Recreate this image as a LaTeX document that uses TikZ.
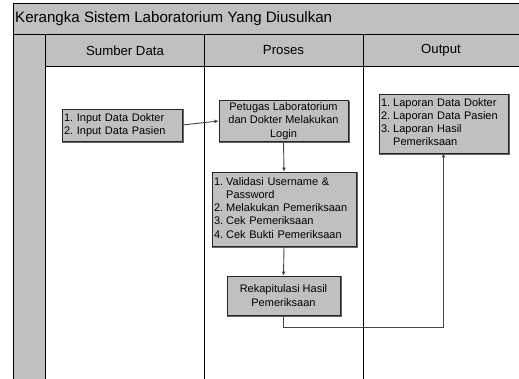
\documentclass[tikz,border=0pt]{standalone}
\usepackage{fontspec}
\setmainfont{Liberation Sans}
\usetikzlibrary{arrows.meta}
\frenchspacing
\definecolor{lanegray}{RGB}{192,192,192}
\definecolor{linegray}{RGB}{70,70,70}
\tikzset{
  box/.style={draw=black!85, line width=0.7pt, fill=lanegray, inner sep=2pt, font=\fontsize{11}{13.2}\selectfont, minimum width=#1},
  box/.default=100pt,
  boxshadow/.style={draw=black!60, line width=0.8pt},
  conn/.style={draw=linegray, line width=0.9pt},
  arr/.style={conn, -{Latex[length=4pt,width=4pt]}},
  frameline/.style={draw=black, line width=0.9pt},
  headtext/.style={font=\fontsize{13.2}{15}\selectfont},
}
\begin{document}
\begin{tikzpicture}[x=1pt,y=-1pt]
\useasboundingbox (0,0) rectangle (519,378);
% fills
\fill[lanegray] (13,3) rectangle (520,34);
\fill[lanegray] (45,34) rectangle (520,66);
\fill[lanegray] (13,34) rectangle (45,379);
% lines
\draw[frameline] (520,3) -- (13,3) -- (13,379);
\draw[frameline] (13,34) -- (520,34);
\draw[frameline] (45,66) -- (520,66);
\draw[frameline] (45,34) -- (45,379);
\draw[frameline] (204,34) -- (204,379);
\draw[frameline] (363,34) -- (363,379);
% texts
\node[anchor=west, inner sep=0pt, font=\fontsize{15.1}{18}\selectfont] (title) at (15,18.5) {Kerangka Sistem Laboratorium Yang Diusulkan};
\node[headtext] (h1) at (125,50.5) {Sumber Data};
\node[headtext] (h2) at (283.5,50.5) {Proses};
\node[headtext] (h3) at (441,50.5) {Output};
% boxes
\node[box=120pt, minimum height=32pt, align=left, text width=116pt] (input) at (122,125) {1. Input Data Dokter\\2. Input Data Pasien};
\node[box=129pt, minimum height=40pt, align=center] (login) at (283.5,121) {Petugas Laboratorium\\dan Dokter Melakukan\\Login};
\node[box=129pt, minimum height=59pt, text width=125pt] (output) at (443.5,123.5) {%
  \begin{tabular}{@{}l@{\hspace{3pt}}l@{}}1.&Laporan Data Dokter\\2.&Laporan Data Pasien\\3.&Laporan Hasil\\&Pemeriksaan\end{tabular}};
\node[box=144pt, minimum height=74pt, text width=140pt] (proses) at (284,209) {%
  \begin{tabular}{@{}l@{\hspace{3pt}}l@{}}1.&Validasi Username \&\\&Password\\2.&Melakukan Pemeriksaan\\3.&Cek Pemeriksaan\\4.&Cek Bukti Pemeriksaan\end{tabular}};
\node[box=113pt, minimum height=39pt, align=center] (rekap) at (283.5,295.5) {Rekapitulasi Hasil\\Pemeriksaan};
% shadows
\foreach \n in {input,login,output,proses,rekap}
  \draw[boxshadow] ([shift={(0.5,1)}]\n.south west) -- ([shift={(1,1)}]\n.south east) -- ([shift={(1,0.5)}]\n.north east);
% connectors
\draw[arr] (input.east) -- (login.west);
\draw[arr] (login.south) -- (proses.north);
\draw[arr] (proses.south) -- (rekap.north);
\coordinate (turn) at (283.5,327);
\draw[arr] (rekap.south) -- (turn) -| (output.south);
\end{tikzpicture}
\end{document}
